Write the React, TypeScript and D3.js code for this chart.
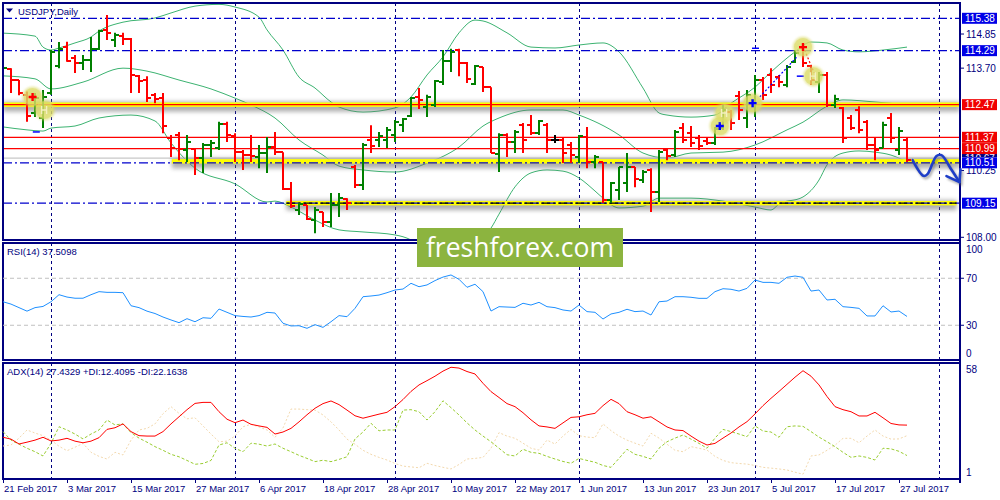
import * as d3 from 'd3';

// daily USDJPY bars, 21 Feb 2017 .. 28 Jul 2017
const opens = [
  113.13, 113.67, 113.3, 112.8, 112.19, 112.02, 112.86, 113.77, 114.41, 114.04,
  113.87, 113.98, 114.35, 114.99, 114.65, 114.78, 114.68, 113.43, 113.3, 112.79,
  112.69, 111.35, 111.45, 110.94, 110.97, 110.67, 111.11, 111.01, 111.82, 111.41,
  110.87, 110.77, 110.7, 110.84, 111.04, 110.87, 109.63, 108.92, 109.09, 108.58,
  108.85, 108.51, 109.09, 109.29, 110.37, 109.76, 111.28, 111.28, 111.28, 111.45,
  111.78, 112.09, 112.73, 112.39, 112.46, 113.23, 113.94, 114.31, 113.87, 113.17,
  113.74, 113.06, 110.81, 111.45, 111.21, 111.78, 111.78, 111.51, 111.78, 111.28,
  111.28, 111.11, 110.7, 111.38, 110.54, 110.54, 109.26, 109.59, 109.83, 110.37,
  109.93, 110.27, 109.53, 110.94, 110.77, 111.68, 111.51, 111.35, 111.25, 111.18,
  111.68, 112.22, 112.76, 112.02, 112.63, 113.3, 113.47, 113.4, 113.13, 113.91,
  114.38, 113.77, 113.23, 113.47, 112.46, 112.36, 112.02, 112.29, 111.88, 111.11,
  111.01, 112.02, 110.94, 111.28,
];
const highs = [
  113.74, 113.7, 113.3, 112.91, 112.86, 112.96, 114.31, 114.58, 114.59, 114.14,
  114.14, 114.75, 114.99, 115.49, 114.89, 114.89, 114.72, 113.47, 113.43, 112.86,
  112.86, 111.45, 111.55, 111.45, 111.01, 111.18, 111.28, 111.89, 111.89, 111.51,
  110.94, 111.45, 111.11, 111.38, 111.55, 110.87, 109.86, 109.16, 109.09, 109.02,
  108.85, 109.49, 109.49, 109.32, 110.44, 111.18, 111.78, 111.55, 111.72, 111.95,
  112.02, 112.73, 113.03, 112.8, 113.3, 114.31, 114.35, 114.35, 113.91, 113.81,
  113.74, 113.06, 111.51, 111.51, 111.62, 111.85, 112.12, 111.95, 111.85, 111.45,
  111.35, 111.21, 111.45, 111.72, 110.77, 110.54, 109.86, 110.37, 110.84, 110.37,
  110.27, 110.33, 110.94, 111.01, 111.62, 111.85, 111.75, 111.45, 111.35, 111.72,
  112.46, 112.29, 112.93, 112.96, 113.47, 113.4, 113.7, 113.47, 113.81, 114.31,
  114.55, 113.81, 113.57, 113.57, 112.8, 112.39, 112.12, 112.42, 111.95, 111.35,
  111.89, 112.19, 111.72, 111.35,
];
const lows = [
  113.06, 112.86, 112.79, 111.89, 112.05, 111.68, 112.8, 113.7, 113.92, 113.54,
  113.64, 113.57, 114.31, 114.65, 114.41, 114.48, 112.86, 112.86, 112.56, 112.52,
  111.51, 110.71, 110.6, 110.54, 110.1, 110.17, 110.71, 110.94, 111.21, 110.54,
  110.27, 110.54, 110.33, 110.17, 110.77, 109.59, 108.99, 108.75, 108.58, 108.14,
  108.35, 108.35, 108.68, 108.92, 109.66, 109.59, 110.84, 111.04, 111.01, 111.21,
  111.55, 112.05, 112.32, 112.05, 112.39, 113.13, 113.57, 113.43, 113.2, 113.13,
  112.9, 110.84, 110.2, 110.71, 110.84, 110.84, 111.45, 111.45, 110.84, 111.18,
  110.5, 110.5, 110.5, 110.33, 110.33, 109.16, 109.16, 109.26, 109.53, 109.69,
  109.83, 108.85, 109.19, 110.6, 110.71, 111.18, 111.04, 110.94, 111.11, 111.11,
  111.62, 111.62, 111.95, 111.68, 112.05, 112.63, 112.86, 113.06, 113.06, 113.87,
  113.74, 113.13, 112.86, 112.39, 112.36, 111.18, 111.62, 111.51, 110.94, 110.6,
  111.01, 111.18, 110.77, 110.54,
];
const closes = [
  113.7, 113.3, 112.86, 112.09, 112.69, 112.73, 114.25, 114.35, 113.94, 113.87,
  113.98, 114.35, 114.95, 114.89, 114.82, 114.68, 113.47, 113.27, 112.69, 112.66,
  111.75, 111.01, 110.97, 111.21, 110.67, 111.11, 111.18, 111.82, 111.45, 110.87,
  110.77, 110.74, 110.84, 111.04, 110.87, 109.63, 109.05, 109.12, 108.62, 108.92,
  108.51, 109.09, 109.32, 109.16, 109.76, 111.11, 111.08, 111.41, 111.62, 111.88,
  111.99, 112.69, 112.63, 112.73, 113.27, 113.94, 114.25, 113.87, 113.33, 113.77,
  113.06, 110.84, 111.45, 111.21, 111.55, 111.28, 111.51, 111.92, 111.28, 111.28,
  110.84, 110.77, 111.41, 110.54, 110.7, 109.26, 109.83, 110.37, 110.37, 109.96,
  110.2, 109.53, 110.87, 110.74, 111.55, 111.28, 111.18, 111.08, 111.18, 111.65,
  112.29, 111.85, 112.29, 112.79, 113.3, 112.79, 113.13, 113.23, 113.74, 114.21,
  113.87, 113.3, 113.47, 112.46, 112.66, 111.35, 111.68, 111.62, 111.11, 110.94,
  111.78, 111.35, 111.58, 110.6,
];

const rsi14 = [
  50, 48, 45, 42, 45, 46, 50, 56, 54, 53, 53, 56, 58.6, 58, 58, 57.7, 46.6, 45, 42, 40,
  37, 34.5, 32.2, 35.6, 33, 36.4, 35.9, 43.8, 41, 38.2, 37.5, 37, 38.2, 41, 40.4, 31.7, 29.4, 29.6, 27.4, 30.5,
  28.2, 33, 38.2, 37.3, 44.4, 54.3, 54.9, 55.7, 57.7, 60, 60.8, 65.7, 62.8, 64.3, 68, 71, 72.8, 69.1, 62.3, 64.9,
  58.6, 42.1, 45.8, 45.5, 45.2, 48.7, 47.2, 49.5, 45.8, 45, 43, 42.1, 47.2, 41.6, 41, 35.3, 39.6, 41, 43.6, 41.6,
  42.1, 38.7, 50, 50.6, 54.3, 54.3, 53.8, 52.9, 52.9, 58.6, 61.1, 60.6, 59.1, 61.4, 68.5, 66.5, 66.5, 65.7, 70.8, 71.9,
  70.8, 59.1, 60, 51.5, 52.1, 45.8, 45.2, 44.4, 37.9, 37.9, 46.6, 41.3, 42.1, 37.5,
];
const adx14 = [
  21.4, 20.5, 18.1, 19, 20, 21.4, 19.6, 20, 20.9, 19.5, 18.7, 19.5, 21.2, 25.3, 26.1, 28, 24.2, 22.2, 22, 22,
  24.2, 28, 31.5, 35, 38.1, 38.6, 38.6, 34, 30.3, 28.6, 29.9, 27.8, 27, 26.3, 23, 24, 25.8, 29, 32.5, 35.7,
  38, 39.3, 37.5, 34.8, 32, 30.8, 31.8, 32.8, 33.7, 36.5, 40, 44, 47.2, 49.3, 51.5, 54, 55.9, 55.5, 53.8, 52.6,
  48, 43.9, 41, 38, 36.5, 33.5, 30, 27, 26.5, 25.8, 28.5, 31.2, 31.5, 32.5, 33.2, 37, 40.1, 38, 34, 32.5,
  30.8, 31.5, 29, 26.5, 25, 24.7, 22, 19.5, 17.6, 18.4, 21, 23.5, 26.5, 29.1, 32.9, 37, 40.6, 44, 47.5, 51,
  54.2, 51.5, 47.2, 41.5, 36.5, 35, 34, 31.9, 31.9, 33.7, 31, 28.2, 27.5, 27.4,
];
const plusDI = [
  24.2, 20, 18, 16, 14.3, 12.2, 18.4, 26.6, 25, 23, 20.6, 23, 25, 29.9, 27.5, 28, 23.7, 21, 19, 16.8,
  15, 13, 11.8, 10, 8.1, 8.5, 10, 17.6, 18.7, 16, 14.3, 18.5, 18, 17.1, 18.1, 16, 14.3, 12.5, 11, 9.4,
  10.1, 9.4, 10.5, 11.8, 20.6, 24, 28.3, 24.6, 25, 25, 34.8, 35, 34, 29.9, 34, 39.4, 36, 32.4, 28.5, 25,
  22, 19.2, 16, 12.8, 12.2, 15.5, 14, 13.5, 12, 10.7, 9.5, 8.6, 11, 10, 9.1, 7.5, 6.6, 11, 15.5, 13,
  12, 10.7, 16, 19.2, 21, 22.5, 20.5, 18.4, 16, 21, 25.3, 24.2, 23, 21.7, 27, 24.5, 24, 21.4, 26.6, 27,
  26.8, 24.2, 21.5, 19.2, 16.8, 14, 11.5, 12.2, 11.5, 10.2, 16, 15.7, 14.5, 12.4,
];
const minusDI = [
  17.1, 17.6, 21, 25, 23.5, 22.2, 20, 17, 14.8, 16.5, 18.4, 14, 12, 10.7, 14, 12.7, 20, 25, 25.8, 28,
  33, 36.5, 33.2, 30.5, 31, 27, 23, 19.2, 19.5, 22, 26.6, 27.8, 26.5, 25, 21.4, 26, 35.3, 35.3, 35, 34.8,
  32.4, 29, 25, 20.5, 18, 15, 13, 11.5, 10.2, 8.5, 7.2, 6.8, 6.4, 8.6, 7.5, 6.6, 5.8, 8, 10.7, 11,
  11.5, 16, 23.7, 22, 20.9, 18.5, 16, 15.1, 20, 18.1, 22, 25.3, 22.2, 21.5, 21.2, 28, 24.7, 22, 20, 18.5,
  17.1, 23.4, 21, 18, 15, 14.3, 16.8, 16, 15.1, 12, 10, 8.9, 8.5, 8.2, 7.5, 6.6, 6.2, 5.8, 5.3, 4.2,
  3.2, 12.2, 12.7, 15, 17.5, 20.9, 20.9, 18.7, 22, 25, 22, 20.5, 20.6, 22.2,
];

// Bollinger bands at selected bars: [bar, price]
const bandUpper: [number, number][] = [
  [0, 114.88], [4, 114.78], [5, 114.41], [6, 114.31], [7, 114.38], [9, 114.55], [11, 114.75], [12, 114.95],
  [15, 115.25], [19, 115.39], [21, 115.56], [24, 115.79], [27, 115.85], [29, 115.76], [32, 115.42], [33, 114.99],
  [35, 114.31], [37, 113.4], [39, 113.03], [41, 112.56], [42, 112.39], [45, 112.22], [49, 112.36], [51, 112.73],
  [53, 113.47], [55, 114.08], [57, 114.89], [59, 115.32], [60, 115.29], [63, 114.89], [66, 114.41], [69, 114.38],
  [72, 114.48], [75, 114.55], [77, 114.25], [80, 113.03], [82, 112.19], [83, 112.12], [86, 112.05], [89, 112.12],
  [91, 112.52], [94, 113.06], [96, 113.57], [98, 114.04], [99, 114.25], [101, 114.58], [103, 114.55], [105, 114.31],
  [107, 114.25], [110, 114.31], [113, 114.41],
];
const bandMiddle: [number, number][] = [
  [0, 113.44], [4, 113.34], [6, 113.0], [10, 113.23], [15, 113.7], [18, 113.6], [22, 113.3], [26, 113.0],
  [29, 112.69], [31, 112.46], [34, 112.02], [37, 111.28], [40, 110.77], [42, 110.4], [45, 110.27], [49, 110.2],
  [53, 110.5], [57, 111.04], [60, 111.75], [62, 112.02], [66, 112.29], [70, 112.29], [72, 112.12], [77, 111.45],
  [80, 110.84], [83, 110.67], [86, 110.84], [90, 110.87], [94, 111.11], [98, 111.62], [100, 111.88], [103, 112.42],
  [105, 112.63], [109, 112.56], [113, 112.46],
];
const bandLower: [number, number][] = [
  [0, 111.72], [3, 111.62], [5, 111.58], [6, 111.68], [9, 111.75], [12, 112.02], [16, 112.12], [19, 111.92],
  [21, 111.18], [24, 110.33], [29, 109.8], [33, 109.19], [34, 109.22], [36, 109.02], [39, 108.58], [42, 108.25],
  [45, 108.18], [49, 108.08], [51, 107.91], [53, 107.5], [56, 107.17], [58, 107.37], [60, 107.98], [61, 108.31],
  [62, 108.78], [64, 109.7], [66, 110.17], [68, 110.27], [70, 110.23], [72, 110.0], [74, 109.56], [75, 109.32],
  [77, 108.99], [80, 109.05], [82, 109.32], [86, 109.32], [90, 109.22], [94, 109.02], [96, 108.92], [97, 109.12],
  [100, 109.36], [102, 109.93], [103, 110.44], [105, 110.84], [107, 110.91], [109, 110.87], [111, 110.77], [113, 110.54],
];

const dateLabels = [
  '21 Feb 2017', '3 Mar 2017', '15 Mar 2017', '27 Mar 2017', '6 Apr 2017', '18 Apr 2017', '28 Apr 2017',
  '10 May 2017', '22 May 2017', '1 Jun 2017', '13 Jun 2017', '23 Jun 2017', '5 Jul 2017', '17 Jul 2017', '27 Jul 2017',
];
const dateBars = [0, 8, 16, 24, 32, 40, 48, 56, 64, 72, 80, 88, 96, 104, 112];
const monthBars = [6, 29, 49, 72, 94, 117];

const axisPrices = [114.85, 113.7, 110.25, 108.0];
const blueTags = [115.38, 114.29, 110.51, 109.15];
const redTags = [112.47, 111.37, 110.99];
const hiddenTag = 110.67;
const dashLevels = [115.38, 114.29, 110.51, 109.15];
const redLevels = [111.37, 110.99];

// highlighted support / resistance zones: price, first bar, last bar
const zones = [
  { price: 112.47, from: 0, to: 119.6, core: 'red' },
  { price: 110.56, from: 21.1, to: 119.6, core: 'none' },
  { price: 109.15, from: 35.4, to: 119.2, core: 'black' },
];

const trades = [
  { bar: 3.7, price: 112.73, kind: 'sell' },
  { bar: 5.2, price: 112.29, kind: 'exit' },
  { bar: 89.6, price: 111.75, kind: 'buy' },
  { bar: 90.2, price: 112.19, kind: 'exit' },
  { bar: 93.7, price: 112.52, kind: 'buy' },
  { bar: 100, price: 114.41, kind: 'sell' },
  { bar: 101.3, price: 113.43, kind: 'exit' },
];
const tradeLinks = [
  { kind: 'buy', a: [94.6, 112.73], b: [99.2, 114.07] },
  { kind: 'sell', a: [100.2, 114.31], b: [101.4, 113.54] },
];
const stopMarks: [number, number][] = [[94.0, 114.37], [99.6, 113.43], [4.1, 111.55]];

// hand-drawn forecast wave: [bar, price]
const forecast: [number, number][] = [
  [113.7, 110.6], [115.06, 110.07], [115.56, 110.13], [116.69, 110.74], [117.31, 110.77], [118.44, 110.33], [119.56, 109.86],
];

const FONT = '"Liberation Sans", Arial, sans-serif';
const NAVY = '#000080';

export default function App() {
  const left = 3;
  const right = 960;
  const x = d3.scaleLinear().domain([0, 113]).range([3, 907]);
  const yP = d3.scaleLinear().domain([108, 115.38]).range([237.3, 18.3]);
  const yR = d3.scaleLinear().domain([0, 100]).range([360.5, 243]);
  const yA = d3.scaleLinear().domain([1, 58]).range([478.7, 363]);

  const bandLine = d3.line<[number, number]>()
    .x(d => x(d[0]))
    .y(d => yP(d[1]))
    .curve(d3.curveMonotoneX);
  const seriesLine = (scale: d3.ScaleLinear<number, number>) =>
    d3.line<number>().x((_, i) => x(i)).y(d => scale(d));
  const waveLine = d3.line<[number, number]>()
    .x(d => x(d[0]))
    .y(d => yP(d[1]))
    .curve(d3.curveCatmullRom);

  const end = forecast[forecast.length - 1];
  const ex = x(end[0]);
  const ey = yP(end[1]);
  const arrowHead = `M${ex - 13},${ey - 6}L${ex},${ey}L${ex + 1},${ey - 13}`;

  const tag = (v: number, fill: string, key: string) => {
    const cy = yP(v);
    return (
      <g key={key}>
        <rect x={962} y={cy - 5.5} width={35} height={11} fill={fill} />
        <text x={965} y={cy + 3.6} fill="#fff" fontSize={10}>{v.toFixed(2)}</text>
      </g>
    );
  };
  // the tag just above 110.51 is mostly covered by it; show only its top strip
  const coverTop = yP(110.51) - 5.5;

  return (
    <svg width={1000} height={500} style={{ position: 'absolute', left: 0, top: 0, background: '#fff' }}
      fontFamily={FONT}>
      <defs>
        <clipPath id="mainClip"><rect x={left} y={3} width={right - left} height={237} /></clipPath>
        <clipPath id="hiddenClip"><rect x={960} y={0} width={40} height={coverTop} /></clipPath>
        <filter id="soft" x="-5%" y="-300%" width="110%" height="700%">
          <feGaussianBlur stdDeviation="2.2" />
        </filter>
        <filter id="glow" x="-50%" y="-50%" width="200%" height="200%">
          <feGaussianBlur stdDeviation="1.2" />
        </filter>
      </defs>

      {/* month grid */}
      {monthBars.map(b => (
        <line key={'g' + b} x1={Math.round(x(b)) + 0.5} x2={Math.round(x(b)) + 0.5} y1={3} y2={479}
          stroke={NAVY} strokeDasharray="3,3" strokeWidth={1} />
      ))}

      <g clipPath="url(#mainClip)">
        {[bandUpper, bandMiddle, bandLower].map((b, i) => (
          <path key={'bb' + i} d={bandLine(b) || ''} fill="none" stroke="#3cb371" strokeWidth={1} />
        ))}

        <line x1={left} x2={right} y1={yP(hiddenTag)} y2={yP(hiddenTag)} stroke="#c8c8c8" strokeWidth={1.2} />

        {zones.map((z, i) => {
          const x1 = x(z.from);
          const x2 = Math.min(x(z.to), right);
          const cy = yP(z.price);
          return (
            <g key={'z' + i}>
              <rect x={x1} y={cy - 3} width={x2 - x1} height={10} fill="#6e6e6e" opacity={0.55} filter="url(#soft)" />
              <rect x={x1} y={cy - 2.2} width={x2 - x1} height={4.4} fill="#ffff00" />
            </g>
          );
        })}

        {dashLevels.map(v => (
          <line key={'d' + v} x1={left} x2={right} y1={yP(v)} y2={yP(v)} stroke="#0000cd" strokeWidth={1.3}
            strokeDasharray="9,3,2,3" />
        ))}
        {zones.filter(z => z.core !== 'none').map((z, i) => (
          <line key={'zc' + i} x1={x(z.from)} x2={Math.min(x(z.to), right)} y1={yP(z.price)} y2={yP(z.price)}
            stroke={z.core === 'red' ? '#ff0000' : '#000'} strokeWidth={1.3}
            strokeDasharray={z.core === 'red' ? undefined : '9,3,2,3'} />
        ))}
        {redLevels.map(v => (
          <line key={'r' + v} x1={left} x2={right} y1={yP(v)} y2={yP(v)} stroke="#ff0000" strokeWidth={1.2} />
        ))}

        {closes.map((c, i) => {
          const o = opens[i];
          const col = c > o ? '#008000' : c < o ? '#ff0000' : '#000000';
          const bx = Math.round(x(i));
          const yo = Math.round(yP(o));
          const yc = Math.round(yP(c));
          return (
            <g key={'b' + i} stroke={col} strokeWidth={2}>
              <line x1={bx} x2={bx} y1={yP(highs[i])} y2={yP(lows[i])} />
              <line x1={bx - 4} x2={bx} y1={yo} y2={yo} />
              <line x1={bx} x2={bx + 4} y1={yc} y2={yc} />
            </g>
          );
        })}

        {tradeLinks.map((t, i) => (
          <line key={'tl' + i} x1={x(t.a[0])} y1={yP(t.a[1])} x2={x(t.b[0])} y2={yP(t.b[1])}
            stroke={t.kind === 'buy' ? '#0000ff' : '#ff0000'} strokeWidth={1.2} strokeDasharray="2,2" />
        ))}
        {stopMarks.map((s, i) => (
          <line key={'s' + i} x1={x(s[0]) - 3} x2={x(s[0]) + 4} y1={yP(s[1])} y2={yP(s[1])}
            stroke="#0000ff" strokeWidth={1.5} />
        ))}
        {trades.map((t, i) => {
          const cx = x(t.bar);
          const cy = yP(t.price);
          return (
            <g key={'t' + i}>
              <circle cx={cx} cy={cy} r={10.5} fill="#d8d860" opacity={0.55} filter="url(#glow)" />
              <circle cx={cx} cy={cy} r={9} fill="#dede6a" opacity={0.6} />
              {t.kind === 'exit' ? (
                <path d={`M${cx - 3},${cy - 4}v8M${cx - 3},${cy}h5M${cx + 2},${cy - 4}v8`} stroke="#f4f0c0"
                  strokeWidth={1.4} fill="none" />
              ) : (
                <path d={`M${cx - 4},${cy}h8M${cx},${cy - 4}v8`} stroke={t.kind === 'buy' ? '#0000ff' : '#ff0000'}
                  strokeWidth={2.4} fill="none" />
              )}
            </g>
          );
        })}
      </g>

      {/* panel frames */}
      <rect x={left} y={3} width={right - left} height={237} fill="none" stroke={NAVY} strokeWidth={2} />
      <rect x={left} y={243} width={right - left} height={117} fill="none" stroke={NAVY} strokeWidth={2} />
      <rect x={left} y={363} width={right - left} height={116} fill="none" stroke={NAVY} strokeWidth={2} />
      <line x1={right} x2={right} y1={2} y2={483} stroke={NAVY} strokeWidth={2} />

      {/* title */}
      <path d="M6,8.5L13,8.5L9.5,12.5Z" fill={NAVY} />
      <text x={18} y={15} fontSize={9.5} fill={NAVY}>USDJPY,Daily</text>

      {/* price axis */}
      {axisPrices.map(v => (
        <g key={'a' + v}>
          <line x1={right} x2={964} y1={yP(v)} y2={yP(v)} stroke={NAVY} />
          <text x={966} y={yP(v) + 3.6} fontSize={10} fill={NAVY}>{v.toFixed(2)}</text>
        </g>
      ))}
      <g clipPath="url(#hiddenClip)">{tag(hiddenTag, NAVY, 'hid')}</g>
      {blueTags.map(v => tag(v, '#0000e6', 'bt' + v))}
      {redTags.map(v => tag(v, '#f00000', 'rt' + v))}

      {/* RSI */}
      {[70, 30].map(v => (
        <g key={'rl' + v}>
          <line x1={left} x2={right} y1={yR(v)} y2={yR(v)} stroke="#c0c0c0" strokeDasharray="4,3" />
          <line x1={right} x2={964} y1={yR(v)} y2={yR(v)} stroke={NAVY} />
          <text x={966} y={yR(v) + 3.6} fontSize={10} fill={NAVY}>{v}</text>
        </g>
      ))}
      <text x={966} y={yR(100) + 9.5} fontSize={10} fill={NAVY}>100</text>
      <text x={966} y={yR(0) - 3.5} fontSize={10} fill={NAVY}>0</text>
      <path d={seriesLine(yR)(rsi14) || ''} fill="none" stroke="#1e90ff" strokeWidth={1} />
      <text x={7} y={255} fontSize={9.5} fill={NAVY}>RSI(14) 37.5098</text>

      {/* ADX */}
      <path d={seriesLine(yA)(minusDI) || ''} fill="none" stroke="#f3d9ae" strokeWidth={1} strokeDasharray="2,2" />
      <path d={seriesLine(yA)(plusDI) || ''} fill="none" stroke="#9acd32" strokeWidth={1} strokeDasharray="3,2" />
      <path d={seriesLine(yA)(adx14) || ''} fill="none" stroke="#ff0000" strokeWidth={1} />
      <text x={7} y={375} fontSize={9.5} fill={NAVY}>ADX(14) 27.4329 +DI:12.4095 -DI:22.1638</text>
      <text x={966} y={yA(58) + 10} fontSize={10} fill={NAVY}>58</text>
      <text x={966} y={yA(1) - 2.5} fontSize={10} fill={NAVY}>1</text>

      {/* date axis */}
      {dateBars.map((b, i) => (
        <g key={'dt' + b}>
          <line x1={Math.round(x(b)) + 0.5} x2={Math.round(x(b)) + 0.5} y1={479} y2={483} stroke={NAVY} />
          <text x={x(b) + 1} y={492} fontSize={9.5} fill={NAVY}>{dateLabels[i]}</text>
        </g>
      ))}

      {/* forecast arrow */}
      <g transform="translate(1.5,2)" opacity={0.45} filter="url(#glow)">
        <path d={waveLine(forecast) || ''} fill="none" stroke="#555" strokeWidth={3} />
        <path d={arrowHead} fill="none" stroke="#555" strokeWidth={3} />
      </g>
      <path d={waveLine(forecast) || ''} fill="none" stroke="#1e3ec8" strokeWidth={2.6} strokeLinecap="round" />
      <path d={arrowHead} fill="none" stroke="#1e3ec8" strokeWidth={2.6} strokeLinecap="round" strokeLinejoin="round" />

      {/* watermark */}
      <rect x={417} y={228} width={206} height={39} fill="#8cb43f" />
      <text x={520} y={257} textAnchor="middle" fontSize={26.5} fill="#fff" fontFamily='"Open Sans", sans-serif'>
        freshforex.com
      </text>
    </svg>
  );
}
